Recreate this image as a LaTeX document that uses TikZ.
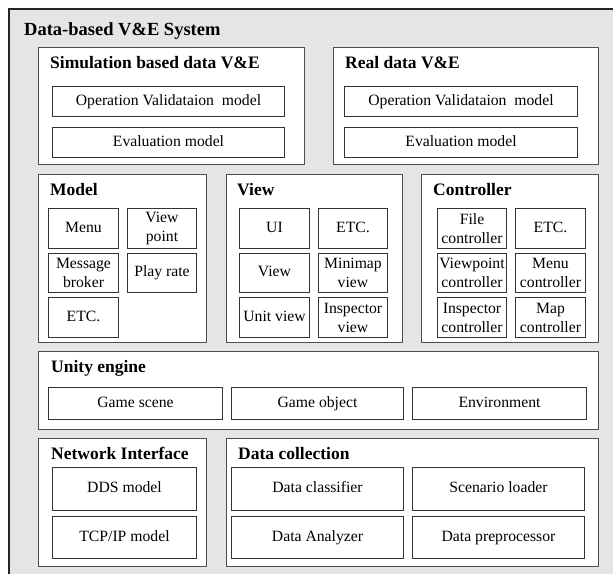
\documentclass[tikz,border=0pt]{standalone}
\usepackage{fontspec}
\setmainfont{Liberation Serif}
\begin{document}
\begin{tikzpicture}[x=1pt,y=-1pt,
  outerbox/.style={draw=black!85,line width=1.6pt,fill=black!10},
  secbox/.style={draw=black!70,line width=1pt,fill=white,anchor=north west,inner sep=0pt},
  twobox/.style={draw=black!80,line width=1pt,fill=white,anchor=north west,inner sep=0pt,align=center,
    font=\fontsize{15.7}{19}\selectfont},
  itembox/.style={twobox,text height=0.75em,text depth=0.05em},
  sectitle/.style={anchor=base west,inner sep=0pt,font=\fontsize{17.5}{20}\selectfont\bfseries},
  maintitle/.style={anchor=base west,inner sep=0pt,font=\fontsize{18.5}{21}\selectfont\bfseries}]
\useasboundingbox (0,0) rectangle (613,573);
\clip (0,0) rectangle (613,573);
\fill[white] (0,0) rectangle (613,573);
\draw[outerbox] (9,9) rectangle (640,600);
\node[maintitle] (mt) at (24,35) {Data-based V\&E System};

% sections
\node[secbox,minimum width=266pt,minimum height=117pt] (sim) at (38,47) {};
\node[secbox,minimum width=265pt,minimum height=117pt] (real) at (333,47) {};
\node[secbox,minimum width=168pt,minimum height=168pt] (model) at (38,174) {};
\node[secbox,minimum width=176pt,minimum height=168pt] (view) at (226,174) {};
\node[secbox,minimum width=177pt,minimum height=168pt] (ctrl) at (421,174) {};
\node[secbox,minimum width=560pt,minimum height=78pt] (unity) at (38,351) {};
\node[secbox,minimum width=168pt,minimum height=128pt] (net) at (38,438) {};
\node[secbox,minimum width=372pt,minimum height=128pt] (dc) at (226,438) {};

% titles
\node[sectitle] (simt) at (50,68) {Simulation based data V\&E};
\node[sectitle] (realt) at (345,68) {Real data V\&E};
\node[sectitle] (modelt) at (50,195) {Model};
\node[sectitle] (viewt) at (237,195) {View};
\node[sectitle] (ctrlt) at (433,195) {Controller};
\node[sectitle] (unityt) at (51,372) {Unity engine};
\node[sectitle] (nett) at (51,459) {Network Interface};
\node[sectitle] (dct) at (238,459) {Data collection};

% simulation / real
\node[itembox,minimum width=232pt,minimum height=30pt] (simop) at (52,86) {Operation Validataion\ \ model};
\node[itembox,minimum width=232pt,minimum height=30pt] (simev) at (52,127) {Evaluation model};
\node[itembox,minimum width=233pt,minimum height=30pt] (realop) at (344,86) {Operation Validataion\ \ model};
\node[itembox,minimum width=233pt,minimum height=30pt] (realev) at (344,127) {Evaluation model};

% model
\node[itembox,minimum width=70pt,minimum height=40pt] (menu) at (48,208) {Menu};
\node[twobox,minimum width=69pt,minimum height=40pt] (vp) at (127,208) {View\\point};
\node[twobox,minimum width=70pt,minimum height=39pt] (mb) at (48,253) {Message\\broker};
\node[itembox,minimum width=69pt,minimum height=39pt] (pr) at (127,253) {Play rate};
\node[itembox,minimum width=70pt,minimum height=40pt] (metc) at (48,297) {ETC.};

% view
\node[itembox,minimum width=70pt,minimum height=40pt] (ui) at (239,208) {UI};
\node[itembox,minimum width=69pt,minimum height=40pt] (vetc) at (318,208) {ETC.};
\node[itembox,minimum width=70pt,minimum height=39pt] (vview) at (239,253) {View};
\node[twobox,minimum width=69pt,minimum height=39pt] (mini) at (318,253) {Minimap\\view};
\node[itembox,minimum width=70pt,minimum height=40pt] (unit) at (239,297) {Unit view};
\node[twobox,minimum width=69pt,minimum height=40pt] (insp) at (318,297) {Inspector\\view};

% controller
\node[twobox,minimum width=69pt,minimum height=40pt] (filec) at (437,208) {File\\controller};
\node[itembox,minimum width=70pt,minimum height=40pt] (cetc) at (515,208) {ETC.};
\node[twobox,minimum width=69pt,minimum height=39pt] (vpc) at (437,253) {Viewpoint\\controller};
\node[twobox,minimum width=70pt,minimum height=39pt] (menuc) at (515,253) {Menu\\controller};
\node[twobox,minimum width=69pt,minimum height=40pt] (inspc) at (437,297) {Inspector\\controller};
\node[twobox,minimum width=70pt,minimum height=40pt] (mapc) at (515,297) {Map\\controller};

% unity
\node[itembox,minimum width=174pt,minimum height=32pt] (gs) at (48,387) {Game scene};
\node[itembox,minimum width=172pt,minimum height=32pt] (go) at (231,387) {Game object};
\node[itembox,minimum width=174pt,minimum height=32pt] (env) at (412,387) {Environment};

% network
\node[itembox,minimum width=144pt,minimum height=43pt] (dds) at (52,467) {DDS model};
\node[itembox,minimum width=144pt,minimum height=42pt] (tcp) at (52,516) {TCP/IP model};

% data collection
\node[itembox,minimum width=172pt,minimum height=43pt] (dcl) at (231,467) {Data classifier};
\node[itembox,minimum width=172pt,minimum height=43pt] (sl) at (412,467) {Scenario loader};
\node[itembox,minimum width=172pt,minimum height=42pt] (da) at (231,516) {Data Analyzer};
\node[itembox,minimum width=172pt,minimum height=42pt] (dp) at (412,516) {Data preprocessor};
\end{tikzpicture}
\end{document}
